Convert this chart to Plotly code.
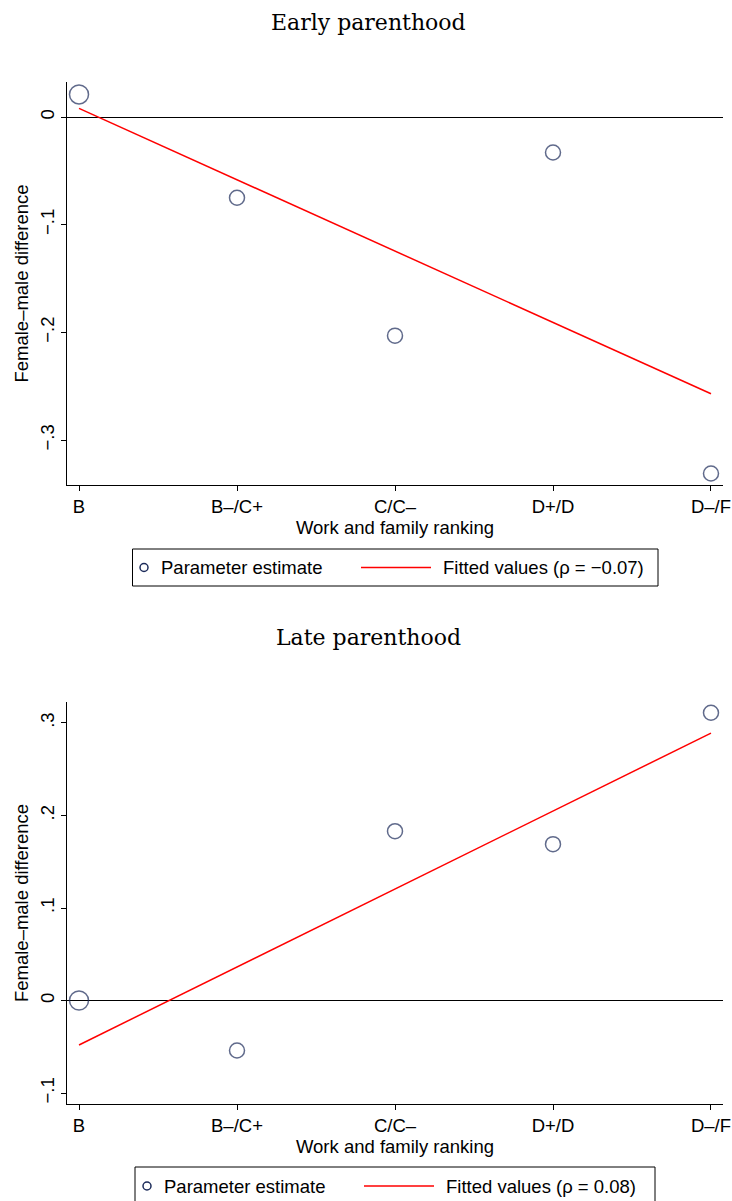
import plotly.graph_objects as go

categories = ["B", "B–/C+", "C/C–", "D+/D", "D–/F"]

early_est = [0.021, -0.075, -0.203, -0.033, -0.331]
early_fit_x = ["B", "D–/F"]
early_fit = [0.008, -0.257]

late_est = [0.0, -0.054, 0.183, 0.169, 0.311]
late_fit_x = ["B", "D–/F"]
late_fit = [-0.048, 0.289]

early_ticks = [0, -0.1, -0.2, -0.3]
early_ticktext = ["0", "−.1", "−.2", "−.3"]
late_ticks = [-0.1, 0, 0.1, 0.2, 0.3]
late_ticktext = ["−.1", "0", ".1", ".2", ".3"]

legend_est = "Parameter estimate"
legend_fit_early = "Fitted values (ρ = −0.07)"
legend_fit_late = "Fitted values (ρ = 0.08)"

NAVY = "#1c2b5a"
RED = "#ff0000"
SANS = "Liberation Sans, Arial, sans-serif"
SERIF = "DejaVu Serif, serif"
FS = 18.5

marker_sizes = [19, 15, 15, 15, 15]

W, H = 732, 1201


def px(x):
    return x / W


def py(y):
    return 1 - y / H


fig = go.Figure()


def add_panel(est, fx, fy, xa, ya, name_fit):
    fig.add_trace(go.Scatter(
        x=categories, y=est, mode="markers", xaxis=xa, yaxis=ya,
        name=legend_est,
        marker=dict(symbol="circle-open", size=marker_sizes, color=NAVY,
                    line=dict(width=1.5, color=NAVY)),
        showlegend=False, hoverinfo="skip"))
    fig.add_trace(go.Scatter(
        x=fx, y=fy, mode="lines", xaxis=xa, yaxis=ya, name=name_fit,
        line=dict(color=RED, width=1.5), showlegend=False, hoverinfo="skip"))


add_panel(early_est, early_fit_x, early_fit, "x", "y", legend_fit_early)
add_panel(late_est, late_fit_x, late_fit, "x2", "y2", legend_fit_late)

x0, x1 = 67 / W, 723 / W


def xaxis_cfg(anchor):
    return dict(domain=[x0, x1], anchor=anchor, type="category",
                categoryorder="array", categoryarray=categories,
                range=[-0.076, 4.076], showline=True, linecolor="black",
                linewidth=1, ticks="outside", ticklen=5, tickcolor="black",
                showgrid=False, zeroline=False, automargin=False,
                tickfont=dict(family=SANS, size=FS, color="black"),
                title=dict(text="Work and family ranking", standoff=1,
                           font=dict(family=SANS, size=FS, color="black")))


def yaxis_cfg(anchor, dom, rng, tv, tt):
    return dict(domain=dom, anchor=anchor, range=rng, showline=True,
                linecolor="black", linewidth=1, ticks="outside", ticklen=5,
                tickcolor="black", showgrid=False, zeroline=True,
                zerolinecolor="black", zerolinewidth=1, automargin=False,
                tickvals=tv, ticktext=tt, tickangle=-90,
                tickfont=dict(family=SANS, size=FS, color="black"),
                title=dict(text="Female–male difference", standoff=3,
                           font=dict(family=SANS, size=FS, color="black")))


top_dom = [py(485), py(82)]
bot_dom = [py(1104), py(702)]

shapes = []
annotations = []


def add_legend(box_l, box_r, box_t, box_b, mk_x, txt1_x, ln_x0, ln_x1,
               txt2_x, yc, label_fit):
    shapes.append(dict(type="rect", xref="paper", yref="paper",
                       x0=px(box_l), x1=px(box_r), y0=py(box_b), y1=py(box_t),
                       line=dict(color="black", width=1), fillcolor="white",
                       layer="above"))
    shapes.append(dict(type="circle", xref="paper", yref="paper",
                       xsizemode="pixel", ysizemode="pixel",
                       xanchor=px(mk_x), yanchor=py(yc),
                       x0=-4, x1=4, y0=-4, y1=4,
                       line=dict(color=NAVY, width=1.5)))
    shapes.append(dict(type="line", xref="paper", yref="paper",
                       x0=px(ln_x0), x1=px(ln_x1), y0=py(yc), y1=py(yc),
                       line=dict(color=RED, width=1.5)))
    for tx, t in ((txt1_x, legend_est), (txt2_x, label_fit)):
        annotations.append(dict(text=t, x=px(tx), y=py(yc), xref="paper",
                                yref="paper", showarrow=False, xanchor="left",
                                yanchor="middle",
                                font=dict(family=SANS, size=FS, color="black")))


add_legend(132.5, 658, 549, 586, 144, 159, 361, 431, 441, 567.5,
           legend_fit_early)
add_legend(135, 655, 1167, 1206, 147, 162, 364, 434, 444, 1186,
           legend_fit_late)

for txt, yc in (("Early parenthood", 22), ("Late parenthood", 637)):
    annotations.append(dict(text=txt, x=px(368), y=py(yc), xref="paper",
                            yref="paper", showarrow=False, xanchor="center",
                            yanchor="middle",
                            font=dict(family=SERIF, size=22, color="black")))

fig.update_layout(
    width=W, height=H, margin=dict(l=0, r=0, t=0, b=0),
    paper_bgcolor="white", plot_bgcolor="white", showlegend=False,
    xaxis=xaxis_cfg("y"),
    yaxis=yaxis_cfg("x", top_dom, [-0.3417, 0.0325], early_ticks, early_ticktext),
    xaxis2=xaxis_cfg("y2"),
    yaxis2=yaxis_cfg("x2", bot_dom, [-0.1118, 0.3226], late_ticks, late_ticktext),
    shapes=shapes,
    annotations=annotations,
)

fig.write_html("out.html")
